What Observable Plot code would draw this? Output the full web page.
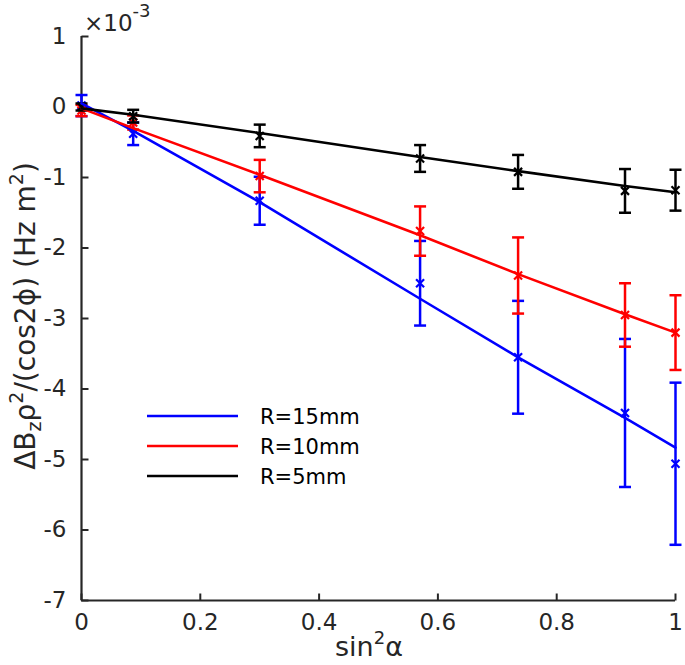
<!DOCTYPE html>
<html>
<head>
<meta charset="utf-8">
<script src="https://cdn.jsdelivr.net/npm/d3@7"></script>
<script src="https://cdn.jsdelivr.net/npm/@observablehq/plot@0.6"></script>
<style>
  body { margin: 0; background: #fff; }
  #wrap { position: relative; width: 685px; height: 665px; }
</style>
</head>
<body>
<div id="wrap"></div>
<script>
// x values: sin^2(alpha)
const sin2a = [0, 0.087, 0.3, 0.57, 0.735, 0.915, 1];

// y values in units of 10^-3 Hz m^2
const seriesNames = ["R=15mm", "R=10mm", "R=5mm"];
const seriesColors = ["#0000ff", "#ff0000", "#000000"];

const meanR15 = [0.02, -0.38, -1.33, -2.50, -3.55, -4.34, -5.06];
const errR15  = [0.15, 0.16, 0.34, 0.60, 0.80, 1.05, 1.15];
const fitR15  = [0.05, -0.34, -1.35, -2.72, -3.55, -4.41, -4.83];

const meanR10 = [-0.05, -0.22, -0.98, -1.76, -2.39, -2.95, -3.20];
const errR10  = [0.08, 0.10, 0.23, 0.35, 0.54, 0.45, 0.53];
const fitR10  = [-0.02, -0.30, -0.96, -1.82, -2.37, -2.94, -3.20];

const meanR5 = [0.0, -0.13, -0.41, -0.73, -0.92, -1.19, -1.18];
const errR5  = [0.05, 0.09, 0.16, 0.19, 0.24, 0.31, 0.29];
const fitR5  = [-0.02, -0.11, -0.37, -0.71, -0.91, -1.12, -1.21];

const xTicks = [0, 0.2, 0.4, 0.6, 0.8, 1];
const yTicks = [-7, -6, -5, -4, -3, -2, -1, 0, 1];

const series = [
  {name: seriesNames[0], color: seriesColors[0], mean: meanR15, err: errR15, fit: fitR15},
  {name: seriesNames[1], color: seriesColors[1], mean: meanR10, err: errR10, fit: fitR10},
  {name: seriesNames[2], color: seriesColors[2], mean: meanR5,  err: errR5,  fit: fitR5}
];
const tables = series.map(s => sin2a.map((x, i) => ({x, mean: s.mean[i], err: s.err[i], fit: s.fit[i]})));

// custom symbols
const capSym = {draw(ctx) { ctx.moveTo(-6, 0); ctx.lineTo(6, 0); }};
const timesSym = {draw(ctx) { const s = 4; ctx.moveTo(-s, -s); ctx.lineTo(s, s); ctx.moveTo(-s, s); ctx.lineTo(s, -s); }};
const tickRight = {draw(ctx) { ctx.moveTo(0, 0); ctx.lineTo(7, 0); }};
const tickUp = {draw(ctx) { ctx.moveTo(0, 0); ctx.lineTo(0, -7); }};

const axisColor = "#262626";
const marks = [];

// axis lines and inner ticks
marks.push(Plot.ruleX([0], {y1: -7, y2: 1, stroke: axisColor, strokeWidth: 2.2}));
marks.push(Plot.ruleY([-7], {x1: 0, x2: 1, stroke: axisColor, strokeWidth: 2.2}));
marks.push(Plot.dot(yTicks, {x: 0, y: d => d, symbol: tickRight, stroke: axisColor, strokeWidth: 2, fill: "none"}));
marks.push(Plot.dot(xTicks, {x: d => d, y: -7, symbol: tickUp, stroke: axisColor, strokeWidth: 2, fill: "none"}));
marks.push(Plot.axisY(yTicks, {tickSize: 0, tickPadding: 15, tickFormat: d => String(d), label: null}));
marks.push(Plot.axisX(xTicks, {tickSize: 0, tickPadding: 13, tickFormat: d => String(d), label: null}));

// error bars and markers
series.forEach((s, k) => {
  const t = tables[k];
  marks.push(Plot.ruleX(t, {x: "x", y1: d => d.mean - d.err, y2: d => d.mean + d.err, stroke: s.color, strokeWidth: 2.5}));
  marks.push(Plot.dot(t, {x: "x", y: d => d.mean - d.err, symbol: capSym, stroke: s.color, strokeWidth: 2.5, fill: "none"}));
  marks.push(Plot.dot(t, {x: "x", y: d => d.mean + d.err, symbol: capSym, stroke: s.color, strokeWidth: 2.5, fill: "none"}));
  marks.push(Plot.dot(t, {x: "x", y: "mean", symbol: timesSym, stroke: s.color, strokeWidth: 2.2, fill: "none"}));
});
// fitted lines
series.forEach((s, k) => {
  marks.push(Plot.line(tables[k], {x: "x", y: "fit", stroke: s.color, strokeWidth: 2.6}));
});

const chart = Plot.plot({
  width: 685,
  height: 665,
  marginLeft: 81,
  marginRight: 10,
  marginTop: 36,
  marginBottom: 65,
  x: {domain: [0, 1], label: null},
  y: {domain: [-7, 1], label: null},
  style: {fontFamily: "DejaVu Sans", fontSize: "23px", color: axisColor, background: "#fff", overflow: "visible"},
  marks
});

document.getElementById("wrap").appendChild(chart);

// labels and legend drawn into the same svg
const svg = d3.select(chart);
const font = "DejaVu Sans";

// ×10^-3 multiplier
const mult = svg.append("text").attr("x", 84).attr("y", 31).attr("text-anchor", "start")
  .attr("font-family", font).attr("font-size", 23).attr("fill", axisColor);
mult.append("tspan").text("×10");
mult.append("tspan").attr("font-size", 18).attr("dy", -14).text("-3");

// x label
const xl = svg.append("text").attr("x", 369).attr("y", 656).attr("text-anchor", "middle")
  .attr("font-family", font).attr("font-size", 27).attr("fill", axisColor);
xl.append("tspan").text("sin");
xl.append("tspan").attr("font-size", 18).attr("dy", -12).text("2");
xl.append("tspan").attr("dy", 12).text("α");

// y label
const yl = svg.append("text").attr("transform", "translate(35,316) rotate(-90)").attr("text-anchor", "middle")
  .attr("font-family", font).attr("font-size", 28).attr("fill", axisColor);
yl.append("tspan").text("ΔB");
yl.append("tspan").attr("font-size", 19).attr("dy", 6).text("z");
yl.append("tspan").attr("dy", -6).text("ρ");
yl.append("tspan").attr("font-size", 19).attr("dy", -12).text("2");
yl.append("tspan").attr("dy", 12).text("/(cos2ϕ) (Hz m");
yl.append("tspan").attr("font-size", 19).attr("dy", -12).text("2");
yl.append("tspan").attr("dy", 12).text(")");

// legend
const legY = [416, 446, 476];
series.forEach((s, k) => {
  svg.append("line").attr("x1", 147).attr("x2", 238).attr("y1", legY[k]).attr("y2", legY[k])
    .attr("stroke", s.color).attr("stroke-width", 2.5);
  svg.append("text").attr("x", 260).attr("y", legY[k]).attr("dy", "0.36em").attr("text-anchor", "start")
    .attr("font-family", font).attr("font-size", 21).attr("fill", "#000").text(s.name);
});
</script>
</body>
</html>
